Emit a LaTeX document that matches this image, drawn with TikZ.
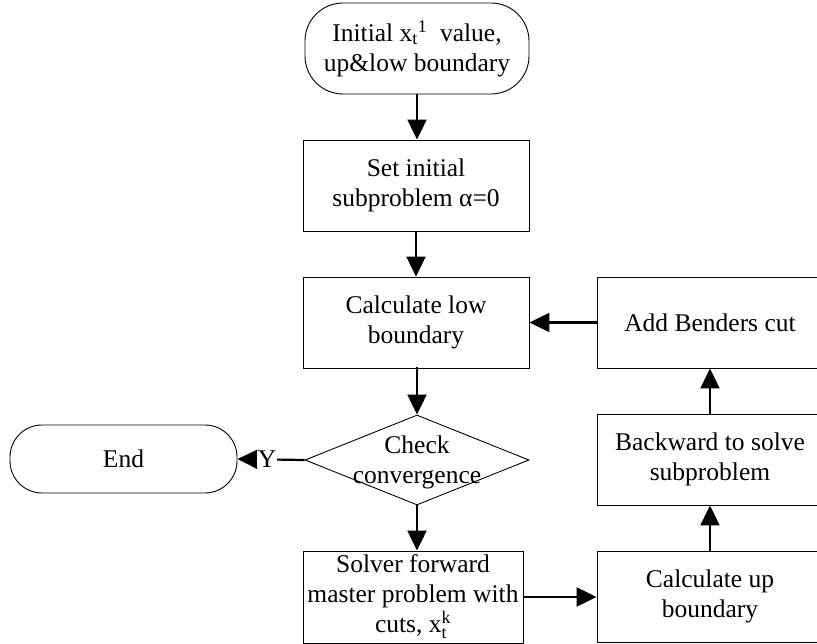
\documentclass[tikz,border=0pt]{standalone}
\usepackage{fontspec}
\usepackage{amsmath}
\setmainfont{Liberation Serif}
\usetikzlibrary{shapes.geometric,arrows.meta}

\begin{document}
\begin{tikzpicture}[x=1pt,y=-1pt,
  every node/.style={font=\fontsize{25.5}{30}\selectfont, align=center, inner sep=0pt},
  procbox/.style={draw, line width=0.9pt, rectangle, minimum width=226pt, minimum height=91pt},
  termbox/.style={draw, line width=0.9pt, rectangle, rounded corners=#1},
  decbox/.style={draw, line width=0.9pt, diamond, minimum width=224pt, minimum height=90pt},
  arr/.style={line width=2.2pt, -{Triangle[length=20pt,width=19pt]}}
]
\useasboundingbox (0,0) rectangle (817,644);
\clip (0,0) rectangle (817,644);

% main column
\node[termbox=38pt, minimum width=224pt, minimum height=91pt] (start) at (417,48.5)
  {Initial x$_{\text{t}}$\textsuperscript{1}\ \ value,\\up\&low boundary};
\node[procbox] (init) at (416,185.5) {Set initial\\subproblem α=0};
\node[procbox] (low) at (416,322.5) {Calculate low\\boundary};
\node[decbox] (dia) at (417,460) {};
\node at (417,462) {Check\\convergence};
\node[procbox, minimum width=220pt, minimum height=92pt] (solve) at (413,597)
  {Solver forward\\master problem with\\cuts, x$_{\text{t}}^{\text{k}}$};

% end terminal
\node[termbox=32pt, minimum width=227pt, minimum height=68pt] (fin) at (123.5,459) {End};

% right column
\node[procbox] (bend) at (710,322.5) {Add Benders cut};
\node[procbox] (back) at (710,459.5) {Backward to solve\\subproblem};
\node[procbox] (up) at (710,596.5) {Calculate up\\boundary};

% connectors
\draw[arr] (start.south) -- (start.south |- init.north);
\draw[arr] (init.south) -- (low.north);
\draw[arr] (low.south) -- (low.south -| dia.north) -- (dia.north);
\draw[arr] (dia.south) -- (dia.south |- solve.north);
\draw[arr] (dia.west) -- (fin.east) node[pos=0.56, fill=white, inner xsep=1pt] {Y};
\draw[arr] (solve.east) -- (solve.east -| up.west);
\draw[arr] (up.north) -- (back.south);
\draw[arr] (back.north) -- (bend.south);
\draw[arr] (bend.west) -- (low.east);
\end{tikzpicture}
\end{document}
